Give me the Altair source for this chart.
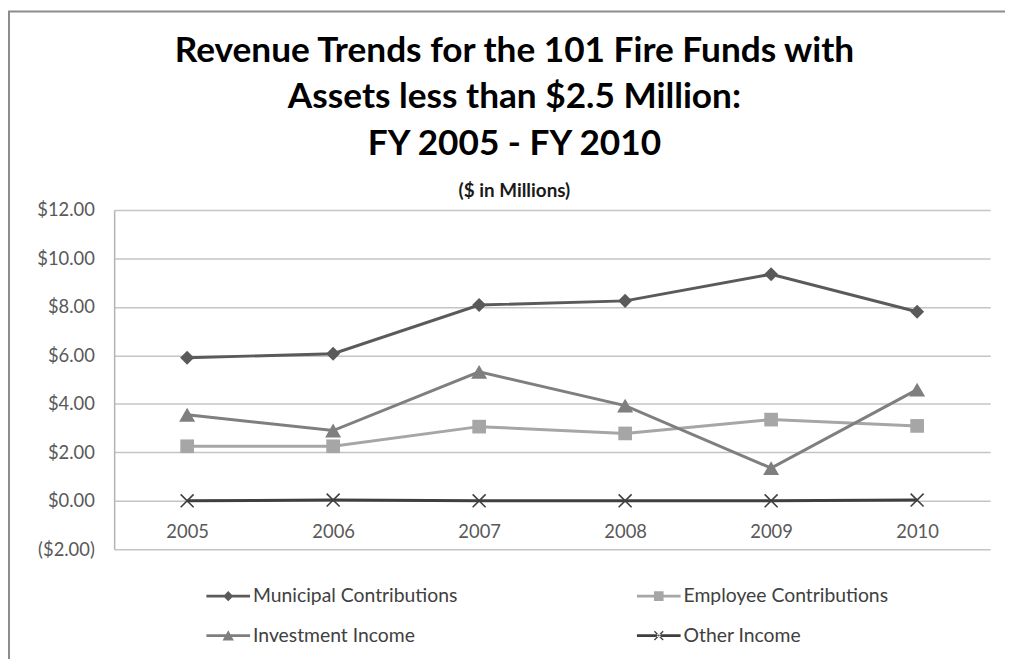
import altair as alt
import pandas as pd

years = ["2005", "2006", "2007", "2008", "2009", "2010"]
series_names = ["Municipal Contributions", "Employee Contributions", "Investment Income", "Other Income"]
municipal = [5.90, 6.07, 8.08, 8.25, 9.35, 7.80]
employee = [2.25, 2.25, 3.06, 2.78, 3.35, 3.09]
investment = [3.55, 2.90, 5.32, 3.93, 1.35, 4.59]
other = [0.00, 0.03, 0.00, 0.00, 0.00, 0.03]
colors = ["#5a5a5a", "#a6a6a6", "#7f7f7f", "#3f3f3f"]
y_ticks = [-2, 0, 2, 4, 6, 8, 10, 12]

rows = []
for name, vals in zip(series_names, [municipal, employee, investment, other]):
    for yr, v in zip(years, vals):
        rows.append({"year": yr, "series": name, "value": v})
df = pd.DataFrame(rows)

FONT = "Lato"
W, H = 883, 342
PL, PT = 107, 201

xenc = alt.X("year:N", sort=years,
             axis=alt.Axis(title=None, orient="bottom", offset=-49, domain=False, ticks=False,
                           labelAngle=0, labelPadding=22, labelFont=FONT, labelFontSize=18.5,
                           labelColor="#595959", grid=False))
yenc = alt.Y("value:Q", scale=alt.Scale(domain=[-2, 12], nice=False, zero=False),
             axis=alt.Axis(title=None, values=y_ticks, ticks=False, labelPadding=20,
                           labelFont=FONT, labelFontSize=18.5, labelColor="#595959",
                           domainColor="#b3b3b3", domainWidth=1.5,
                           gridColor="#c4c4c4", gridWidth=1.5,
                           labelExpr="datum.value < 0 ? '($' + format(-datum.value, '.2f') + ')' : '$' + format(datum.value, '.2f')"))

base = alt.Chart(df)
cscale = alt.Scale(domain=series_names, range=colors)

lines = base.mark_line(strokeWidth=3).encode(
    x=xenc, y=yenc,
    stroke=alt.Stroke("series:N", scale=cscale, legend=None),
    order=alt.Order("year:N"),
)

marker_shapes = ["diamond", "square", "triangle-up", "M-1,-1L1,1M-1,1L1,-1"]
marker_sizes = [200, 190, 260, 170]
marker_layers = []
for name, col, shp, sz in zip(series_names, colors, marker_shapes, marker_sizes):
    filt = base.transform_filter(alt.datum.series == name)
    if shp.startswith("M"):
        m = filt.mark_point(filled=False, shape=shp, size=sz, color=col, opacity=1, strokeWidth=1.6)
    else:
        m = filt.mark_point(filled=True, shape=shp, size=sz, color=col, opacity=1)
    marker_layers.append(m.encode(x=xenc, y=yenc))

BAR = "M-1,-0.06H1V0.06H-1Z"
legend_shapes = [
    BAR + "M0,-0.23L0.23,0L0,0.23L-0.23,0Z",
    BAR + "M-0.22,-0.22H0.22V0.22H-0.22Z",
    BAR + "M0,-0.24L0.26,0.22L-0.26,0.22Z",
    BAR + "M-0.221,-0.179L0.179,0.221L0.221,0.179L-0.179,-0.221Z"
          "M-0.179,0.221L0.221,-0.179L0.179,-0.221L-0.221,0.179Z",
]
leg = alt.Legend(title=None, orient="none", legendX=93, legendY=367, direction="horizontal",
                 columns=2, columnPadding=180, rowPadding=8, symbolSize=1936,
                 symbolStrokeWidth=0, labelFont=FONT, labelFontSize=19.5, labelColor="#404040",
                 labelOffset=3, labelLimit=500, padding=0, symbolOpacity=1)
legend_layer = base.mark_point(filled=True, opacity=0, size=10).encode(
    x=xenc, y=yenc,
    color=alt.Color("series:N", scale=cscale, legend=leg, sort=series_names),
    shape=alt.Shape("series:N", scale=alt.Scale(domain=series_names, range=legend_shapes),
                    legend=leg, sort=series_names),
)

frame_df = pd.DataFrame({"k": [0]})
frame = alt.Chart(frame_df).mark_rect(fill=None, stroke="#8c8c8c", strokeWidth=2).encode(
    x=alt.value(9 - 8 - PL), x2=alt.value(1040 - PL),
    y=alt.value(9 - 8 - PT), y2=alt.value(700 - PT),
)

chart = alt.layer(frame, lines, *marker_layers, legend_layer).properties(
    width=W, height=H,
    title=alt.TitleParams(
        text=["Revenue Trends for the 101 Fire Funds with", "Assets less than $2.5 Million:", "FY 2005 - FY 2010"],
        subtitle="($ in Millions)",
        font=FONT, fontSize=35.5, fontWeight="bold", color="#000000", lineHeight=47,
        subtitleFont=FONT, subtitleFontSize=19, subtitleFontWeight="bold", subtitleColor="#1a1a1a",
        subtitlePadding=20, anchor="middle", dx=-38, offset=-192, frame="group",
    ),
    padding={"left": PL, "top": PT, "right": 1005 - PL - W, "bottom": 651 - PT - H},
    autosize=alt.AutoSizeParams(type="none"),
).resolve_scale(color="independent", shape="independent").configure_view(stroke=None)

chart.save("out.html", embed_options={"renderer": "svg", "actions": False})
